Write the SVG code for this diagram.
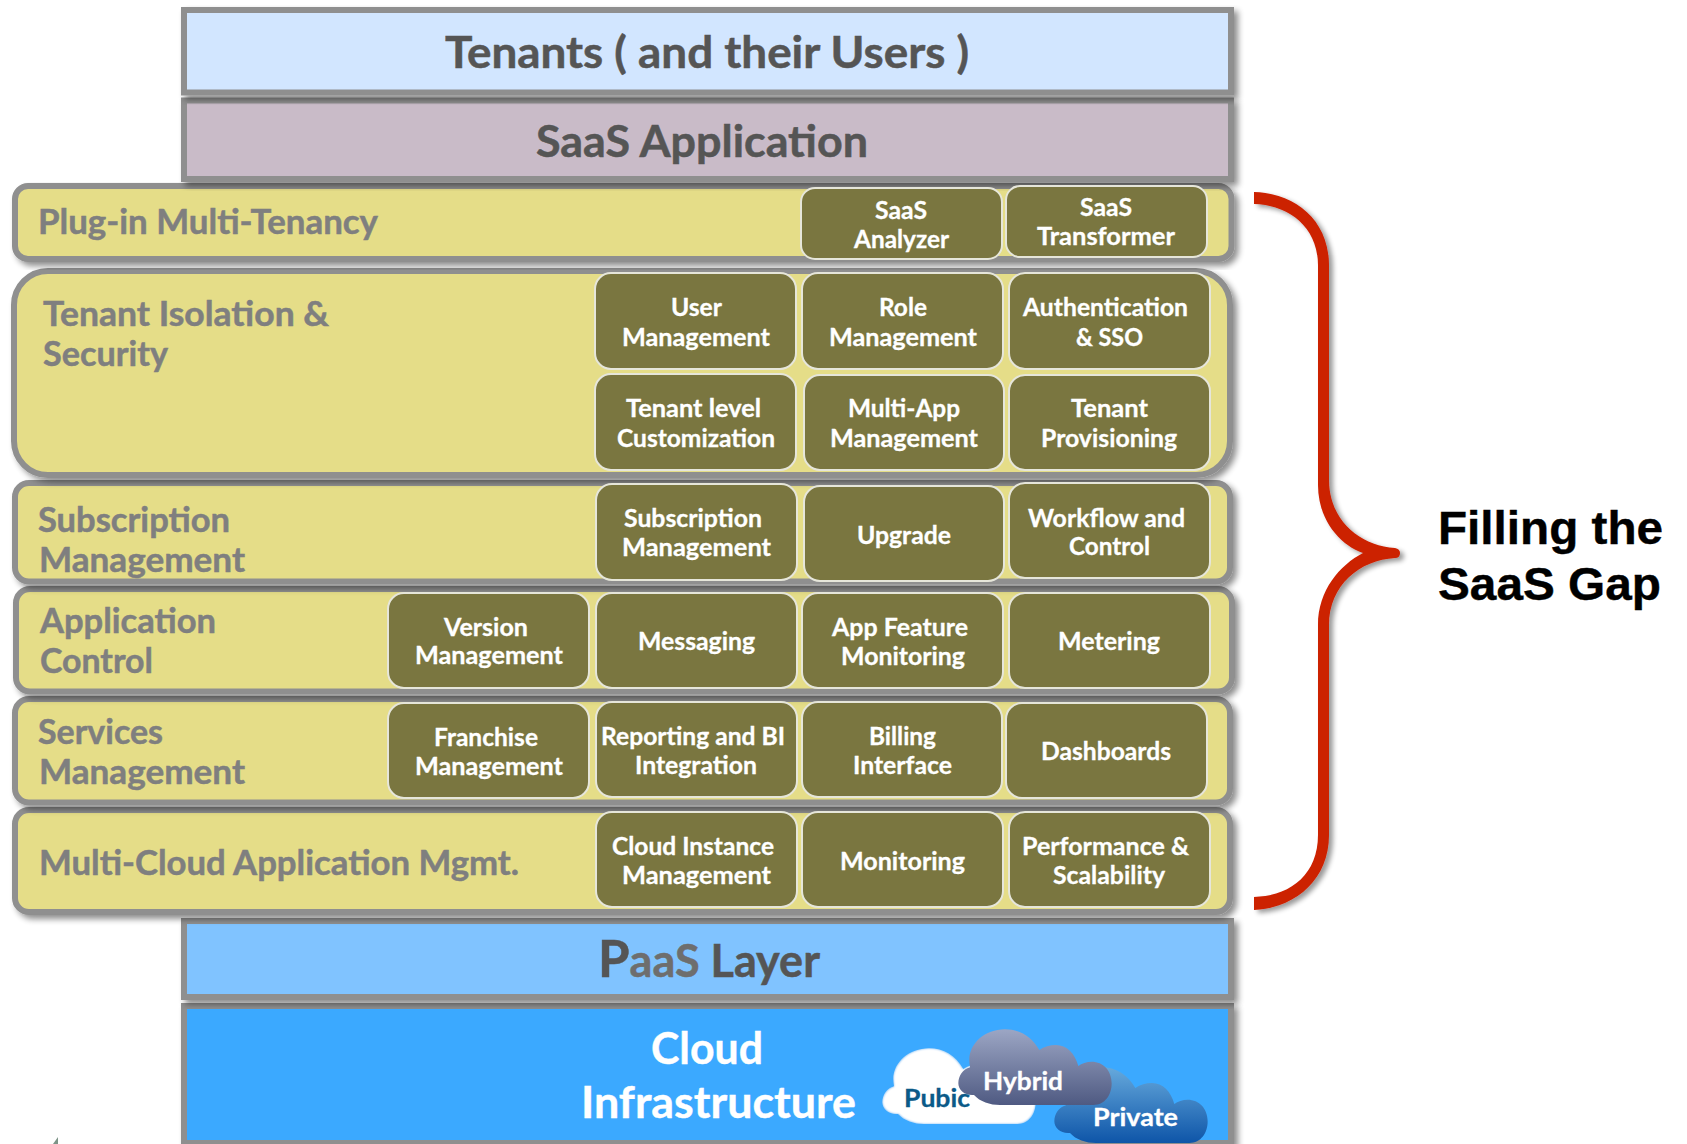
<svg xmlns="http://www.w3.org/2000/svg" width="1687" height="1144" viewBox="0 0 1687 1144">
<style>
text{font-family:"Lato","Carlito","Open Sans",sans-serif;font-weight:700}
.bar,.row{stroke:#8f8f8f;stroke-width:6;filter:url(#sh)}
.row{fill:#e5dd88}
.cell rect{fill:#7a7640;stroke:#e6e6da;stroke-width:2}
.cell text{fill:#fff;stroke:#fff;stroke-width:.3;font-size:25px}
.lab{fill:#7f7f7f;stroke:#7f7f7f;stroke-width:.5;font-size:34px}
.top{fill:#555;stroke:#555;stroke-width:.5;font-size:43px}
.side{font-family:"Liberation Sans",Arial,sans-serif;font-size:46px;fill:#000;stroke:#000;stroke-width:.4}
.cl{font-size:25px;stroke-width:.3}
.big{font-size:43px;fill:#fff;stroke:#fff;stroke-width:.4}
</style>
<defs>
<filter id="sh" x="-5%" y="-10%" width="110%" height="125%"><feGaussianBlur in="SourceAlpha" stdDeviation="3"/><feOffset dx="4" dy="4"/><feComponentTransfer><feFuncA type="linear" slope="0.45"/></feComponentTransfer><feMerge><feMergeNode/><feMergeNode in="SourceGraphic"/></feMerge></filter>
<filter id="sh2" x="-20%" y="-5%" width="150%" height="110%"><feGaussianBlur in="SourceAlpha" stdDeviation="2.5"/><feOffset dx="4" dy="3"/><feComponentTransfer><feFuncA type="linear" slope="0.4"/></feComponentTransfer><feMerge><feMergeNode/><feMergeNode in="SourceGraphic"/></feMerge></filter>
<filter id="soft" x="-10%" y="-10%" width="120%" height="120%"><feMorphology in="SourceAlpha" operator="erode" radius="4" result="e"/><feGaussianBlur in="e" stdDeviation="3.5" result="b"/><feFlood flood-color="#fff"/><feComposite in2="b" operator="in" result="w"/><feComposite in="w" in2="SourceAlpha" operator="in" result="w2"/><feMerge><feMergeNode in="SourceGraphic"/><feMergeNode in="w2"/><feMergeNode in="w2"/></feMerge></filter>
<linearGradient id="gh" x1="0" y1="0" x2="0" y2="1"><stop offset="0" stop-color="#9ca6c4"/><stop offset="1" stop-color="#4f5a82"/></linearGradient>
<linearGradient id="gp" x1="0" y1="0" x2="0" y2="1"><stop offset="0" stop-color="#66a9dc"/><stop offset="1" stop-color="#0e55a8"/></linearGradient>
<path id="cloud" d="M480 375L760 375C795 375 815 345 815 310C815 272 790 245 755 245C740 245 725 250 715 258C705 220 680 195 648 195C630 195 612 200 598 210C575 170 540 148 495 148C435 148 388 190 388 240C388 248 389 255 390 262C368 268 355 288 355 310C355 330 375 348 402 345C420 365 450 375 480 375Z"/>
</defs>
<rect width="1687" height="1144" fill="#fff"/>
<path id="mark" d="M58 1137L58 1144L53 1144Z" fill="#7d9488"/>

<g id="cloud-infrastructure"><rect class="bar" x="184" y="1006" width="1047" height="137" fill="#3aa9ff"/>
<text class="big" x="651" y="1064" textLength="112" lengthAdjust="spacingAndGlyphs">Cloud</text>
<text class="big" x="581" y="1118" textLength="275" lengthAdjust="spacingAndGlyphs">Infrastructure</text></g>
<g id="clouds">
<g id="cloud-public"><use href="#cloud" transform="translate(840 980) scale(.33333) translate(-228 57)" fill="#7fc4f5" filter="url(#soft)"/></g>
<g id="cloud-private"><use href="#cloud" transform="translate(840 980) scale(.33333) translate(288 114)" fill="url(#gp)"/></g>
<g id="cloud-hybrid"><use href="#cloud" transform="translate(840 980) scale(.33333)" fill="url(#gh)"/></g>
<text class="cl" x="904" y="1107" fill="#0b5a88" stroke="#0b5a88" textLength="66" lengthAdjust="spacingAndGlyphs">Pubic</text>
<text class="cl" x="983" y="1090" fill="#fff" stroke="#fff" textLength="80" lengthAdjust="spacingAndGlyphs">Hybrid</text>
<text class="cl" x="1093" y="1126" fill="#fff" stroke="#fff" textLength="85" lengthAdjust="spacingAndGlyphs">Private</text>
</g>
<g id="paas-layer"><rect class="bar" x="184" y="921" width="1047" height="76" fill="#80c3ff"/>
<text x="598" y="977" font-size="45" fill="#555" stroke="#555" stroke-width=".5"><tspan font-size="51">P</tspan><tspan fill="#6e6e6e" stroke="#6e6e6e">aaS</tspan><tspan> Layer</tspan></text></g>

<g id="row-multicloud"><rect class="row" x="15" y="810" width="1215" height="102" rx="14"/>
<text class="lab" x="39" y="875" textLength="480" lengthAdjust="spacingAndGlyphs">Multi-Cloud Application Mgmt.</text></g>
<g id="row-services"><rect class="row" x="15" y="699" width="1215" height="103.500" rx="14"/>
<text class="lab" x="38" y="744" textLength="125" lengthAdjust="spacingAndGlyphs">Services</text>
<text class="lab" x="39" y="784" textLength="206" lengthAdjust="spacingAndGlyphs">Management</text></g>
<g id="row-application"><rect class="row" x="16" y="589" width="1216" height="102.500" rx="14"/>
<text class="lab" x="40" y="633" textLength="176" lengthAdjust="spacingAndGlyphs">Application</text>
<text class="lab" x="40" y="673" textLength="113" lengthAdjust="spacingAndGlyphs">Control</text></g>
<g id="row-subscription"><rect class="row" x="15" y="483" width="1215" height="98.500" rx="14"/>
<text class="lab" x="38" y="532" textLength="192" lengthAdjust="spacingAndGlyphs">Subscription</text>
<text class="lab" x="39" y="572" textLength="206" lengthAdjust="spacingAndGlyphs">Management</text></g>
<g id="row-isolation"><rect class="row" x="14" y="271" width="1216" height="204" rx="34"/>
<text class="lab" x="43" y="326" textLength="286" lengthAdjust="spacingAndGlyphs">Tenant Isolation &amp;</text>
<text class="lab" x="43" y="366" textLength="125" lengthAdjust="spacingAndGlyphs">Security</text></g>
<g id="row-plugin"><rect class="row" x="15" y="186" width="1216.500" height="73" rx="13"/>
<text class="lab" x="38" y="234" textLength="340" lengthAdjust="spacingAndGlyphs">Plug-in Multi-Tenancy</text></g>
<g id="saas-application"><rect class="bar" x="184" y="100.500" width="1047" height="78.500" fill="#c9bbc8"/>
<text class="top" x="536" y="157" textLength="332" lengthAdjust="spacingAndGlyphs">SaaS Application</text></g>
<g id="tenants"><rect class="bar" x="184" y="10" width="1047" height="82.500" fill="#d2e6ff"/>
<text class="top" x="445" y="68" textLength="524" lengthAdjust="spacingAndGlyphs">Tenants ( and their Users )</text></g>

<g id="saas-analyzer" class="cell"><rect x="801" y="188" width="201" height="71" rx="14"/><text x="875" y="219" textLength="52" lengthAdjust="spacingAndGlyphs">SaaS</text><text x="854" y="248" textLength="95" lengthAdjust="spacingAndGlyphs">Analyzer</text></g>
<g id="saas-transformer" class="cell"><rect x="1006" y="186" width="201" height="71" rx="14"/><text x="1080" y="216" textLength="52" lengthAdjust="spacingAndGlyphs">SaaS</text><text x="1037" y="245" textLength="138" lengthAdjust="spacingAndGlyphs">Transformer</text></g>
<g id="user-management" class="cell"><rect x="595" y="273" width="201" height="96" rx="16"/><text x="671" y="316" textLength="51" lengthAdjust="spacingAndGlyphs">User</text><text x="622" y="346" textLength="148" lengthAdjust="spacingAndGlyphs">Management</text></g>
<g id="role-management" class="cell"><rect x="802" y="273" width="201" height="96" rx="16"/><text x="879" y="316" textLength="48" lengthAdjust="spacingAndGlyphs">Role</text><text x="829" y="346" textLength="148" lengthAdjust="spacingAndGlyphs">Management</text></g>
<g id="authentication-sso" class="cell"><rect x="1009" y="273" width="201" height="96" rx="16"/><text x="1023" y="316" textLength="165" lengthAdjust="spacingAndGlyphs">Authentication</text><text x="1076" y="346" textLength="67" lengthAdjust="spacingAndGlyphs">&amp; SSO</text></g>
<g id="tenant-customization" class="cell"><rect x="595" y="374" width="201" height="96" rx="16"/><text x="626" y="417" textLength="135" lengthAdjust="spacingAndGlyphs">Tenant level</text><text x="617" y="447" textLength="158" lengthAdjust="spacingAndGlyphs">Customization</text></g>
<g id="multiapp-management" class="cell"><rect x="804" y="375" width="200" height="95" rx="16"/><text x="848" y="417" textLength="112" lengthAdjust="spacingAndGlyphs">Multi-App</text><text x="830" y="447" textLength="148" lengthAdjust="spacingAndGlyphs">Management</text></g>
<g id="tenant-provisioning" class="cell"><rect x="1009" y="375" width="201" height="95" rx="16"/><text x="1071" y="417" textLength="77" lengthAdjust="spacingAndGlyphs">Tenant</text><text x="1041" y="447" textLength="136" lengthAdjust="spacingAndGlyphs">Provisioning</text></g>
<g id="subscription-management" class="cell"><rect x="596" y="484" width="201" height="96" rx="16"/><text x="624" y="527" textLength="138" lengthAdjust="spacingAndGlyphs">Subscription</text><text x="622" y="556" textLength="149" lengthAdjust="spacingAndGlyphs">Management</text></g>
<g id="upgrade" class="cell"><rect x="804" y="486" width="200" height="95" rx="16"/><text x="857" y="544" textLength="94" lengthAdjust="spacingAndGlyphs">Upgrade</text></g>
<g id="workflow-control" class="cell"><rect x="1009" y="483" width="201" height="95" rx="16"/><text x="1028" y="527" textLength="157" lengthAdjust="spacingAndGlyphs">Workflow and</text><text x="1069" y="555" textLength="81" lengthAdjust="spacingAndGlyphs">Control</text></g>
<g id="version-management" class="cell"><rect x="388" y="593" width="201" height="95" rx="16"/><text x="444" y="636" textLength="84" lengthAdjust="spacingAndGlyphs">Version</text><text x="415" y="664" textLength="148" lengthAdjust="spacingAndGlyphs">Management</text></g>
<g id="messaging" class="cell"><rect x="596" y="593" width="201" height="95" rx="16"/><text x="638" y="650" textLength="117" lengthAdjust="spacingAndGlyphs">Messaging</text></g>
<g id="app-feature-monitoring" class="cell"><rect x="802" y="593" width="201" height="95" rx="16"/><text x="832" y="636" textLength="136" lengthAdjust="spacingAndGlyphs">App Feature</text><text x="841" y="665" textLength="124" lengthAdjust="spacingAndGlyphs">Monitoring</text></g>
<g id="metering" class="cell"><rect x="1009" y="593" width="201" height="95" rx="16"/><text x="1058" y="650" textLength="102" lengthAdjust="spacingAndGlyphs">Metering</text></g>
<g id="franchise-management" class="cell"><rect x="388" y="703" width="201" height="95" rx="16"/><text x="434" y="746" textLength="104" lengthAdjust="spacingAndGlyphs">Franchise</text><text x="415" y="775" textLength="148" lengthAdjust="spacingAndGlyphs">Management</text></g>
<g id="reporting-bi" class="cell"><rect x="596" y="702" width="201" height="95" rx="16"/><text x="601" y="745" textLength="184" lengthAdjust="spacingAndGlyphs">Reporting and BI</text><text x="635" y="774" textLength="122" lengthAdjust="spacingAndGlyphs">Integration</text></g>
<g id="billing-interface" class="cell"><rect x="802" y="702" width="200" height="95" rx="16"/><text x="869" y="745" textLength="67" lengthAdjust="spacingAndGlyphs">Billing</text><text x="853" y="774" textLength="99" lengthAdjust="spacingAndGlyphs">Interface</text></g>
<g id="dashboards" class="cell"><rect x="1006" y="703" width="201" height="95" rx="16"/><text x="1041" y="760" textLength="130" lengthAdjust="spacingAndGlyphs">Dashboards</text></g>
<g id="cloud-instance-management" class="cell"><rect x="596" y="812" width="201" height="95" rx="16"/><text x="612" y="855" textLength="162" lengthAdjust="spacingAndGlyphs">Cloud Instance</text><text x="622" y="884" textLength="149" lengthAdjust="spacingAndGlyphs">Management</text></g>
<g id="monitoring" class="cell"><rect x="802" y="812" width="201" height="95" rx="16"/><text x="840" y="870" textLength="125" lengthAdjust="spacingAndGlyphs">Monitoring</text></g>
<g id="performance-scalability" class="cell"><rect x="1009" y="812" width="201" height="95" rx="16"/><text x="1022" y="855" textLength="167" lengthAdjust="spacingAndGlyphs">Performance &amp;</text><text x="1053" y="884" textLength="112" lengthAdjust="spacingAndGlyphs">Scalability</text></g>

<g id="connectors"><path d="M1254 192C1295 193 1329 220 1329 265L1329 480C1329 520 1360 546 1395 548Q1400 549 1400 553Q1400 558 1395 558C1360 560 1329 585 1329 625L1329 835C1329 880 1295 908 1254 910L1254 897C1290 896 1318 875 1318 835L1318 625C1318 590 1340 565 1363 553C1340 545 1318 520 1318 485L1318 265C1318 228 1290 205 1254 204Z" fill="#cc2000" filter="url(#sh2)"/></g>
<g id="gap-label"><text class="side" x="1438" y="544" textLength="225" lengthAdjust="spacingAndGlyphs">Filling the</text><text class="side" x="1438" y="600" textLength="223" lengthAdjust="spacingAndGlyphs">SaaS Gap</text></g>
</svg>
